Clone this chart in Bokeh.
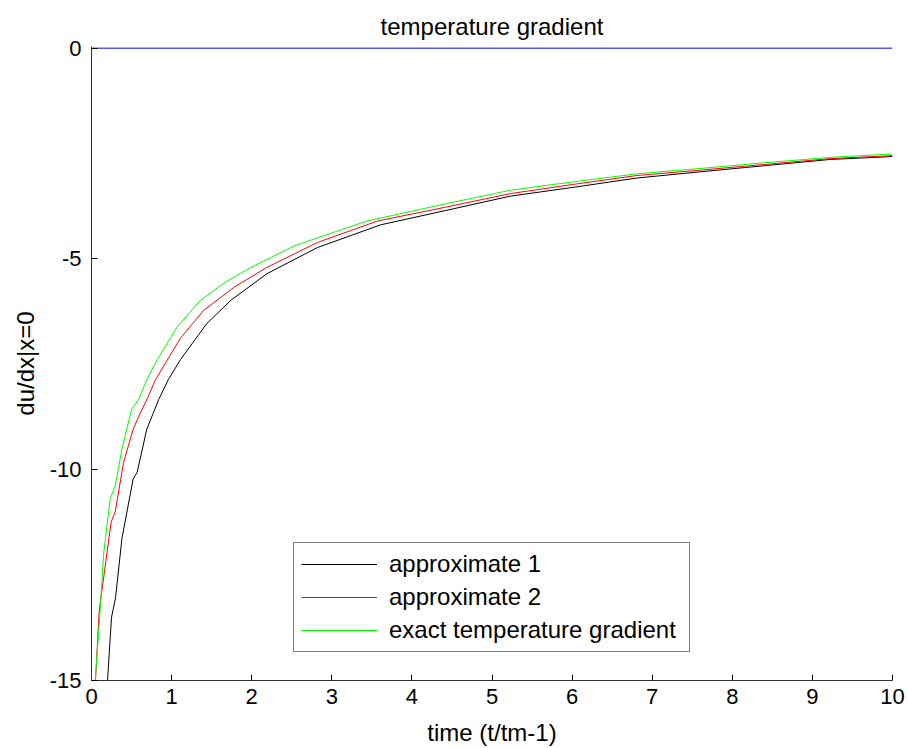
from bokeh.plotting import figure
from bokeh.models import Legend, LegendItem, FixedTicker, Range1d
from bokeh.embed import file_html
from bokeh.resources import INLINE

# ---- data ----
x_ticks = [0, 1, 2, 3, 4, 5, 6, 7, 8, 9, 10]
y_ticks = [0, -5, -10, -15]
y_tick_labels = ["0", "-5", "-10", "-15"]

zero_t = [0.0, 10.0]
zero_val = [0.0, 0.0]

t_approx1 = [0.20, 0.25, 0.30, 0.38, 0.52, 0.57, 0.69, 0.84, 0.96, 1.11, 1.44, 1.74,
             2.19, 2.82, 3.61, 4.40, 5.23, 6.02, 6.81, 7.56, 8.39, 9.22, 10.0]
approx1 = [-15.0, -13.5, -13.04, -11.63, -10.22, -10.06, -9.04, -8.33, -7.86, -7.39, -6.53, -5.98,
           -5.35, -4.73, -4.19, -3.86, -3.51, -3.30, -3.08, -2.94, -2.79, -2.64, -2.57]

t_approx2 = [0.05, 0.096, 0.245, 0.296, 0.40, 0.52, 0.61, 0.70, 0.80, 1.11, 1.40, 1.78,
             2.19, 2.82, 3.57, 4.40, 5.23, 6.02, 6.81, 7.56, 8.39, 9.22, 10.0]
approx2 = [-15.0, -13.35, -11.24, -11.0, -9.83, -9.04, -8.65, -8.30, -7.86, -6.88, -6.22, -5.67,
           -5.20, -4.61, -4.10, -3.78, -3.45, -3.23, -3.02, -2.90, -2.76, -2.62, -2.55]

t_exact = [0.046, 0.108, 0.15, 0.233, 0.296, 0.38, 0.50, 0.59, 0.69, 0.82, 1.07, 1.36, 1.67,
           1.99, 2.53, 3.02, 3.44, 4.40, 5.23, 6.02, 6.81, 7.56, 8.39, 9.22, 10.0]
exact = [-15.0, -13.35, -12.02, -10.69, -10.38, -9.51, -8.57, -8.33, -7.86, -7.39, -6.61, -5.98, -5.55,
         -5.20, -4.69, -4.37, -4.10, -3.70, -3.37, -3.17, -2.98, -2.86, -2.72, -2.59, -2.51]

labels = ["approximate 1", "approximate 2", "exact temperature gradient"]
title_text = "temperature gradient"
x_label = "time (t/tm-1)"
y_label = "du/dx|x=0"

FONT = "Liberation Sans"

p = figure(width=908, height=748, output_backend="svg", toolbar_location=None,
           x_range=Range1d(0, 10), y_range=Range1d(-15, 0.04),
           min_border_left=91, min_border_right=16, min_border_top=46, min_border_bottom=65,
           title=title_text)

p.outline_line_color = None
p.background_fill_color = "white"
p.border_fill_color = "white"
p.xgrid.visible = False
p.ygrid.visible = False

p.title.align = "center"
p.title.text_font = FONT
p.title.text_font_size = "24px"
p.title.text_font_style = "normal"
p.title.text_color = "black"
p.title.standoff = 14

for ax in (p.xaxis[0], p.yaxis[0]):
    ax.axis_line_color = "#333333"
    ax.axis_line_width = 1
    ax.major_tick_in = 6
    ax.major_tick_out = 0
    ax.minor_tick_in = 0
    ax.minor_tick_out = 0
    ax.major_tick_line_color = "black"
    ax.major_label_text_font = FONT
    ax.major_label_text_font_size = "22px"
    ax.major_label_text_color = "black"
    ax.axis_label_text_font = FONT
    ax.axis_label_text_font_size = "24px"
    ax.axis_label_text_font_style = "normal"
    ax.axis_label_text_color = "black"

p.xaxis[0].ticker = FixedTicker(ticks=x_ticks)
p.xaxis[0].major_label_overrides = {t: str(t) for t in x_ticks}
p.xaxis[0].axis_label = x_label
p.xaxis[0].major_label_standoff = 8
p.xaxis[0].axis_label_standoff = 12

p.yaxis[0].ticker = FixedTicker(ticks=y_ticks)
p.yaxis[0].major_label_overrides = {t: s for t, s in zip(y_ticks, y_tick_labels)}
p.yaxis[0].axis_label = y_label
p.yaxis[0].major_label_standoff = 10
p.yaxis[0].axis_label_standoff = 8

p.line(zero_t, zero_val, line_color="#0000ff", line_width=1)
r1 = p.line(t_approx1, approx1, line_color="black", line_width=1)
r2 = p.line(t_approx2, approx2, line_color="#ff0000", line_width=1)
r3 = p.line(t_exact, exact, line_color="#00ff00", line_width=1)

legend = Legend(items=[LegendItem(label=labels[0], renderers=[r1]),
                       LegendItem(label=labels[1], renderers=[r2]),
                       LegendItem(label=labels[2], renderers=[r3])],
                location=(202, 28))
legend.label_text_font = FONT
legend.label_text_font_size = "24px"
legend.label_text_color = "black"
legend.glyph_width = 76
legend.glyph_height = 24
legend.label_height = 24
legend.label_width = 293
legend.label_standoff = 12
legend.spacing = 5
legend.padding = 7
legend.margin = 0
legend.border_line_color = "black"
legend.border_line_width = 1.5
legend.background_fill_color = "white"
legend.background_fill_alpha = 1.0
p.add_layout(legend, "center")

open("out.html", "w").write(file_html(p, INLINE))
